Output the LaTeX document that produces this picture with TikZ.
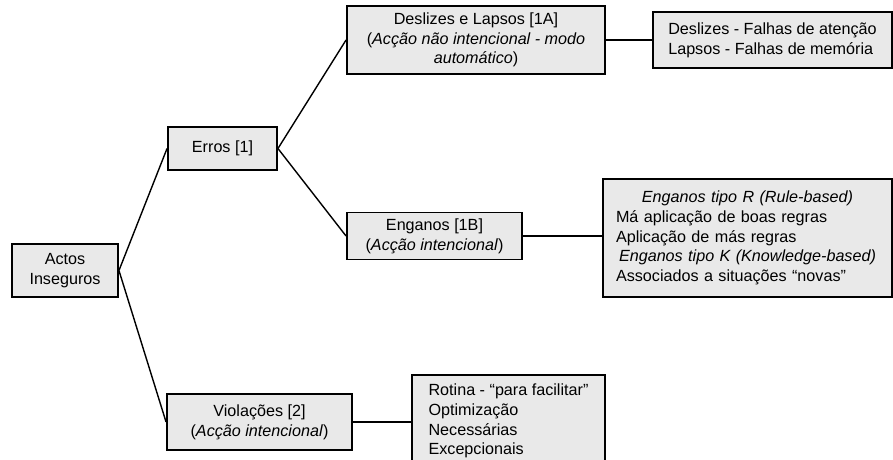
\documentclass[tikz,border=0pt]{standalone}
\usepackage{fontspec}
\setmainfont{Liberation Sans}
\usepackage{tikz}
\usetikzlibrary{positioning,calc}

\tikzset{
  caixa/.style={draw, line width=1.1pt, fill=gray!17, align=center, inner sep=2pt,
    font=\fontsize{9.2}{11.2}\selectfont},
  lista/.style={caixa, align=left},
  ligacao/.style={line width=0.8pt}
}

\begin{document}
\begin{tikzpicture}[x=0.02cm, y=-0.02cm]
    % page frame
    \useasboundingbox (0,0) rectangle (893,460);
    \clip (0,0) rectangle (893,460);

    % main branches
    \node[caixa, minimum width=2.12cm, minimum height=1.06cm] (actos) at (65,270.5) {Actos\\Inseguros};
    \node[caixa, minimum width=2.18cm, minimum height=0.86cm] (erros) at (222.5,148.5) {Erros [1]};
    \node[caixa, minimum width=3.7cm, minimum height=1.12cm] (violacoes) at (259.5,422) {Violações [2]\\(\textit{Acção intencional})};

    % types of error
    \node[caixa, minimum width=5.16cm, minimum height=1.36cm] (deslizes) at (476,40)
      {Deslizes e Lapsos [1A]\\(\textit{Acção não intencional - modo}\\\textit{automático})};
    \node[caixa, minimum width=3.5cm, minimum height=0.94cm] (enganos) at (434.5,236)
      {Enganos [1B]\\(\textit{Acção intencional})};

    % detail boxes
    \node[lista, minimum width=4.78cm, minimum height=1.12cm] (falhas) at (772.5,40)
      {Deslizes - Falhas de atenção\\Lapsos - Falhas de memória};
    \node[lista, text width=5.26cm, inner xsep=0.26cm, minimum height=2.36cm] (regras) at (747.5,238)
      {\makebox[\linewidth]{\textit{Enganos tipo R (Rule-based)}}\\
       Má aplicação de boas regras\\
       Aplicação de más regras\\
       \makebox[\linewidth]{\textit{Enganos tipo K (Knowledge-based)}}\\
       Associados a situações ``novas''};
    \node[lista, minimum width=3.86cm, minimum height=1.84cm] (rotina) at (508.5,421)
      {Rotina - ``para facilitar''\\Optimização\\Necessárias\\Excepcionais};

    % connectors
    \draw[ligacao] (actos.east) -- (erros.west);
    \draw[ligacao] (actos.east) -- (violacoes.west);
    \draw[ligacao] (erros.east) -- (deslizes.west);
    \draw[ligacao] (erros.east) -- (enganos.west);
    \draw[ligacao] (deslizes.east) -- (falhas.west);
    \draw[ligacao] (enganos.east) -- (enganos.east -| regras.west);
    \draw[ligacao] (violacoes.east) -- (violacoes.east -| rotina.west);
\end{tikzpicture}
\end{document}
